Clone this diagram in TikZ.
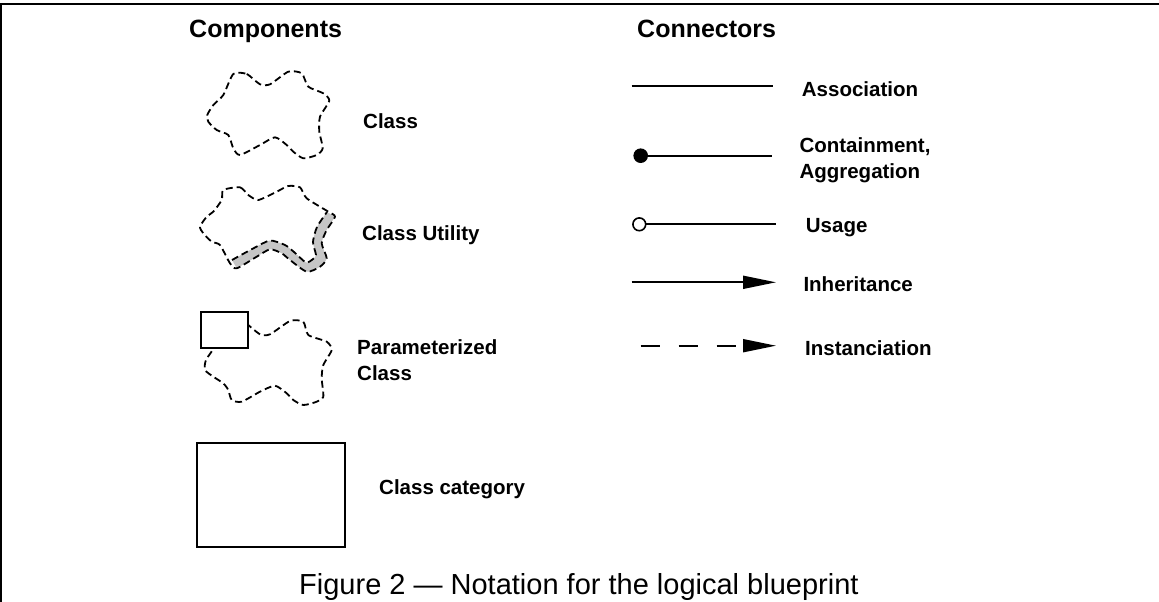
\documentclass[tikz,border=0pt]{standalone}
\usepackage{fontspec}
\setmainfont{Liberation Sans}
\usetikzlibrary{arrows.meta}
\begin{document}
\begin{tikzpicture}[x=1pt,y=-1pt,
  head/.style={anchor=base west,inner sep=0pt,font=\fontsize{25}{30}\selectfont\bfseries},
  lab/.style={anchor=base west,inner sep=0pt,align=left,font=\fontsize{20.5}{25.5}\selectfont\bfseries},
  cloudline/.style={line width=1.8pt,dash pattern=on 7pt off 4pt,line join=round},
  box/.style={draw,line width=2pt,fill=white},
  conn/.style={line width=1.8pt},
  tri/.style={-{Triangle[length=33pt,width=13pt]}}
]
\useasboundingbox (0,0) rectangle (1159,602);
% frame
\draw[line width=2pt] (0,4) -- (1159,4);
\draw[line width=1.5pt] (1,4) -- (1,602);

% headings
\node[head] (hcomp) at (189,37.7) {Components};
\node[head] (hconn) at (637,37.7) {Connectors};

% Class cloud
\draw[cloudline] plot[smooth cycle,tension=0.4] coordinates {
 (233.3,74) (246.7,74) (260,84.3) (270,84.3) (288.3,71.7) (301.7,73.3)
 (308.3,86.7) (323.3,93.3) (329.3,100.7) (320,116.7) (319.3,131.7)
 (322.7,148.3) (316.7,155) (303.3,158.3) (293.3,151.7) (286.7,145)
 (275,137.3) (260,145) (240,155) (233.3,148.3) (228.3,135) (216.7,130)
 (208.3,121.7) (207.3,115) (213.3,105) (223.3,95)};
\node[lab] (lclass) at (363,128) {Class};

% Class utility cloud: gray band
\fill[gray!45] plot[smooth,tension=0.4] coordinates {
 (335,216.7) (326.7,230) (321.7,243.3) (326.7,258.3) (320,266.7)
 (306.7,271.7) (290,260) (281.7,253.3) (270,249.3) (256.7,256.7) (236.7,268.3)}
 -- plot[smooth,tension=0.4] coordinates {
 (232,260) (254,248) (270,240.5) (285,245) (294,252) (306,262.5)
 (313,259) (316,255) (313,242) (317,227) (327,212)} -- cycle;
\draw[cloudline] plot[smooth,tension=0.4] coordinates {
 (232,260) (254,248) (270,240.5) (285,245) (294,252) (306,262.5)
 (313,259) (316,255) (313,242) (317,227) (327,212)};
\draw[cloudline] plot[smooth cycle,tension=0.4] coordinates {
 (223.3,190) (240,187.3) (248.3,195) (258.3,200) (276.7,191.7) (288.3,186)
 (300,187.3) (306.7,198.3) (328.3,211.7) (335,216.7) (326.7,230)
 (321.7,243.3) (326.7,258.3) (320,266.7) (306.7,271.7) (290,260)
 (281.7,253.3) (270,249.3) (256.7,256.7) (236.7,268.3) (230,263.3)
 (220,245) (211.7,241.7) (203.3,233.3) (200,226.7) (206.7,216.7)
 (213.3,211.7) (221.7,200)};
\node[lab] (lutil) at (362,240) {Class Utility};

% Parameterized class
\draw[cloudline] plot[smooth,tension=0.4] coordinates {
 (246,323) (260,334.3) (270,334.3) (290,321) (303.3,321.7) (308.3,335)
 (326.7,341.7) (331.7,350) (323.3,365) (321.7,378.3) (323.3,396.7)
 (316.7,401.7) (303.3,405) (293.3,400) (286.7,393.3) (275,385.7)
 (260,391.7) (241.7,401.7) (231.7,400) (228.3,390) (223.3,383.3)
 (213.3,376.7) (205,370) (206,360) (215,347)};
\node[box,anchor=north west,minimum width=46.7pt,minimum height=35.7pt,inner sep=0pt] (prect) at (200,311) {};
\node[lab] (lparam) at (357,380) {Parameterized\\Class};

% Class category
\node[box,anchor=north west,minimum width=148pt,minimum height=104pt,inner sep=0pt] (cat) at (196,442) {};
\node[lab] (lcat) at (379,494.5) {Class category};

% connectors
\coordinate (a1) at (631.7,86); \coordinate (a2) at (773.3,86);
\draw[conn] (a1) -- (a2);
\node[lab] (lassoc) at (801.7,96) {Association};

\coordinate (c1) at (640.7,155.7); \coordinate (c2) at (771.7,155.7);
\draw[conn] (c1) -- (c2);
\fill (c1) circle (7.3pt);
\node[lab] (lcont) at (799.3,178.3) {Containment,\\Aggregation};

\coordinate (u1) at (639.3,224.3); \coordinate (u2) at (776,224.3);
\draw[conn] ([xshift=6.7pt]u1) -- (u2);
\draw[line width=1.6pt,fill=white] (u1) circle (6.4pt);
\node[lab] (lusage) at (805.7,232) {Usage};

\coordinate (i1) at (631.7,282.3); \coordinate (i2) at (776,282.3);
\draw[conn,tri] (i1) -- (i2);
\node[lab] (linh) at (803.3,291.7) {Inheritance};

\coordinate (n1) at (640.7,345.7); \coordinate (n2) at (776,345.7);
\draw[conn,tri,dash pattern=on 19.5pt off 18.5pt] (n1) -- (n2);
\node[lab] (linst) at (805,355) {Instanciation};

% caption
\node[anchor=base west,inner sep=0pt,font=\fontsize{29}{34}\selectfont] (cap) at (299,594) {Figure 2 --- Notation for the logical blueprint};
\end{tikzpicture}
\end{document}
